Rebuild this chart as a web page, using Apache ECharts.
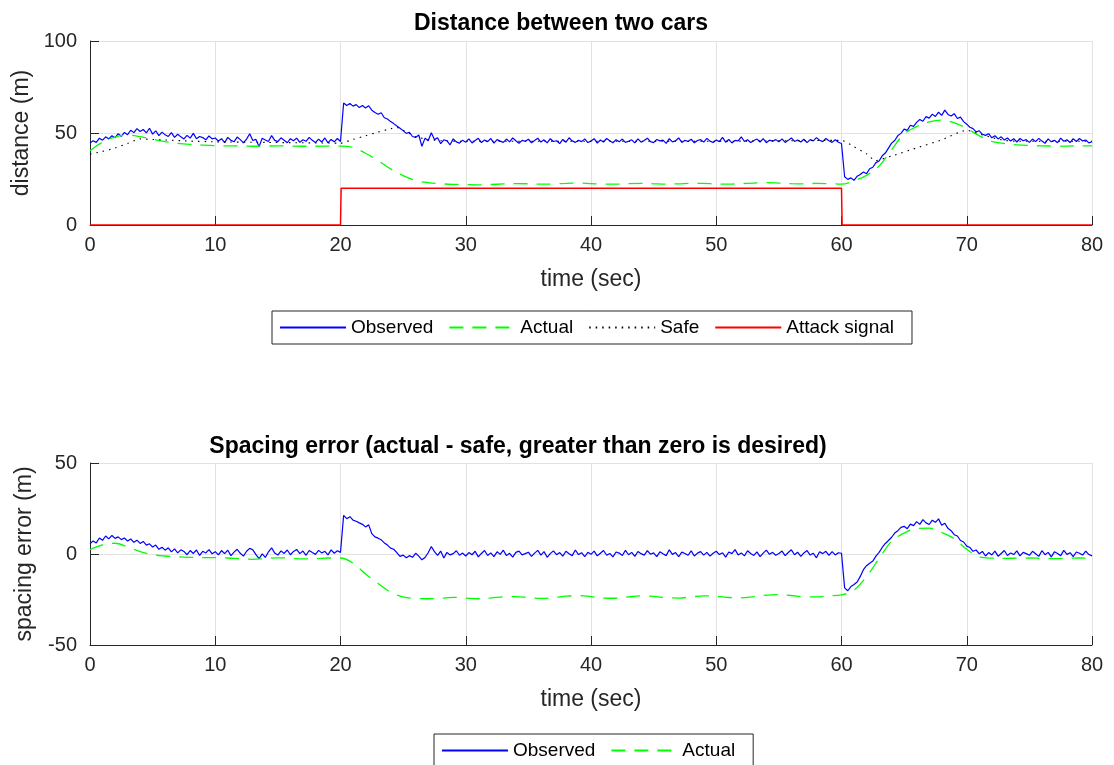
<!DOCTYPE html>
<html><head><meta charset="utf-8">
<script src="https://cdn.jsdelivr.net/npm/echarts@6/dist/echarts.min.js"></script>
<style>html,body{margin:0;padding:0;background:#fff}#c{width:1114px;height:765px}</style>
</head><body><div id="c"></div><script>
// ---- data ----
const timeStep = 0.25; // sampling step (sec) of observed series
const observedDistance = [
44.5,45.8,44.9,47.2,46.1,47.9,46.8,48.5,47.4,49.6,48.2,50.3,49.1,51.5,50.2,52.4,50.8,51.9,50.1,52.6,
49.4,51.2,48.6,50.5,49.0,48.1,50.2,47.6,49.3,47.9,46.8,48.7,47.2,49.8,46.9,48.1,47.5,46.3,48.4,46.8,
47.3,45.6,46.9,44.8,47.6,46.1,45.2,47.8,46.4,44.6,46.7,49.6,45.9,46.5,42.6,47.1,46.2,45.4,48.6,46.0,
45.3,47.4,46.1,44.7,46.9,45.8,47.2,44.9,46.3,45.5,47.6,46.0,44.8,46.7,45.1,47.3,44.6,46.5,45.2,47.0,
45.4,66.3,64.9,66.0,64.6,65.4,63.8,64.9,63.6,64.8,62.4,61.1,60.2,61.0,58.3,57.6,56.2,55.1,53.8,52.6,
51.3,49.8,50.4,48.1,47.6,48.9,42.8,47.2,45.8,50.1,46.4,47.4,44.2,46.3,45.7,43.6,46.8,45.2,44.5,46.1,
45.0,46.8,44.6,45.9,47.1,44.8,46.2,45.3,47.0,44.5,46.4,45.6,44.9,46.7,45.2,47.3,45.8,44.4,46.0,45.5,
46.6,44.7,45.9,47.2,45.1,46.3,44.6,46.9,45.4,45.8,44.2,46.5,45.0,47.4,45.7,44.9,46.1,45.3,46.8,44.8,
45.6,46.9,44.5,46.2,45.1,47.0,45.8,44.7,46.4,45.2,46.7,44.9,45.5,46.3,44.6,46.8,45.0,45.9,47.2,45.3,
44.8,46.5,45.7,46.1,44.4,46.9,45.2,45.8,47.3,44.9,46.0,45.4,46.6,44.7,45.9,46.4,45.1,47.1,45.6,44.8,
46.2,45.3,47.6,45.0,46.5,44.6,46.0,45.7,47.9,45.4,46.3,44.8,45.9,46.7,45.1,46.9,44.7,46.1,45.5,46.4,
45.2,46.8,44.9,46.0,47.3,45.4,46.2,45.1,46.6,44.8,46.4,45.7,47.5,46.1,45.3,47.0,45.8,44.9,46.3,45.0,
44.3,26.2,24.8,25.6,24.3,26.5,27.4,28.8,27.9,30.6,31.4,33.9,34.8,37.6,39.1,41.8,44.5,45.9,48.6,49.8,
52.1,51.4,54.2,53.6,55.8,57.3,56.4,58.9,58.1,60.2,59.0,61.3,59.6,62.4,60.1,59.2,60.5,57.9,58.6,56.2,
54.8,53.1,52.4,50.6,51.2,49.3,48.7,49.6,47.4,48.5,46.8,47.9,46.2,47.3,45.6,46.9,45.1,47.0,45.8,46.4,
44.9,46.7,45.3,47.1,45.6,44.4,46.8,45.2,46.1,44.7,47.2,45.5,46.3,44.8,46.9,45.4,47.0,45.7,46.2,44.6,
45.3];
const observedError = [
5.6,7.2,6.1,8.8,7.5,9.9,8.3,10.2,8.6,9.4,7.9,8.8,7.1,8.3,6.4,7.6,5.8,6.9,4.9,5.6,
3.8,4.9,2.6,3.7,2.1,3.4,1.2,2.8,0.6,2.3,1.4,-0.4,1.9,0.3,2.2,-0.8,1.5,0.6,2.4,0.1,
1.3,-0.5,1.9,0.2,2.1,-0.9,1.0,2.6,0.4,-1.2,1.5,3.1,2.3,-0.3,-2.6,0.1,-1.9,1.2,3.4,0.5,
-0.6,1.7,0.3,2.2,-0.4,1.4,2.5,0.2,1.6,-0.7,1.9,0.8,-0.2,2.0,0.6,1.5,-0.5,2.3,0.4,1.8,
0.9,21.2,19.4,20.5,18.6,18.0,17.1,16.3,14.9,16.0,11.2,9.4,8.7,7.8,6.1,4.9,3.2,2.6,0.8,-1.3,
-0.6,-2.1,-0.9,-1.8,0.4,-1.2,-3.2,-1.9,0.7,4.1,1.3,-0.8,1.6,-2.2,0.9,-0.5,0.2,1.8,-0.7,0.5,
-1.1,0.8,-0.4,1.5,-1.6,0.3,1.9,-0.8,0.6,-1.4,1.2,-0.2,2.1,-0.9,0.4,-1.7,0.9,1.6,-0.5,0.2,
1.0,-1.3,0.5,2.0,-0.6,1.3,-1.8,0.2,1.7,-0.4,0.8,-1.2,1.5,0.1,-0.9,2.2,-0.3,0.7,-1.5,0.9,
-0.2,1.6,-1.0,0.4,1.9,-0.7,0.3,-1.6,1.1,0.5,-0.8,2.0,-0.4,0.9,-1.3,1.4,0.2,-0.6,1.8,-0.1,
0.6,-1.4,1.2,0.1,-0.9,2.3,-0.2,0.8,-1.5,1.0,0.3,-0.7,1.7,-1.1,0.5,1.3,-0.6,0.9,-1.2,0.4,
1.5,-0.3,0.7,-1.7,1.1,0.2,2.4,-0.5,0.6,-1.0,1.8,0.3,-0.8,1.2,-1.4,0.5,2.1,-0.2,0.9,-0.7,
0.3,1.6,-0.9,0.8,2.3,-0.4,1.0,-1.3,0.6,1.9,-0.6,0.4,-2.1,1.2,0.2,1.5,-0.8,1.3,-0.5,0.7,
0.4,-18.6,-20.2,-17.9,-16.8,-15.4,-12.3,-8.6,-6.4,-5.1,-3.9,-1.2,0.9,3.6,5.8,7.4,9.2,11.5,12.8,14.6,
15.2,13.9,16.4,15.6,17.8,16.3,18.9,17.1,16.2,18.6,17.4,19.3,15.8,16.9,14.1,12.8,10.6,9.9,7.4,6.6,
4.3,3.6,1.5,2.2,0.1,1.4,-1.1,0.8,-0.5,1.6,-1.2,0.3,1.9,-0.8,0.6,-0.3,1.7,-1.0,0.9,0.2,
-0.7,1.5,0.1,-1.3,1.8,-0.4,0.9,-1.6,1.2,0.3,-0.9,2.0,-0.2,0.7,-1.4,1.1,0.4,-0.6,1.6,-0.3,
-1.0];
// one value per second, t = 0..80
const actualDistance = [
40.4,45,47.8,48.8,48,46.6,45.3,44.4,43.8,43.4,
43.1,43.0,42.9,42.8,42.9,43.0,42.9,42.8,42.8,42.9,
42.9,42.2,39,35,30.5,26.8,24.2,23,22.4,22.1,
22,21.8,22,22.3,22.5,22.4,22.2,22.3,22.6,22.8,
22.5,22.2,22.2,22.5,22.6,22.4,22.2,22.4,22.7,22.6,
22.3,22.2,22.5,22.8,23.0,22.8,22.5,22.4,22.6,22.5,
22.2,24,27,32,41,49.5,53.5,56,57,55.5,
52.5,48.5,45.5,44.3,43.6,43.2,43.0,42.9,42.9,43.0,
43.0];
const actualError = [
2.4,5,5.9,3.9,1.3,-0.4,-1.1,-1.5,-1.8,-2.0,
-2.0,-2.2,-2.6,-2.9,-2.5,-2.1,-2.3,-2.7,-2.6,-2.2,
-2.2,-5,-11,-16.2,-21,-23.6,-24.4,-24.6,-24.3,-23.8,
-24.2,-24.6,-24.2,-23.5,-23.4,-23.9,-24.4,-24.0,-23.2,-22.8,
-23.4,-24.2,-24.3,-23.6,-23.0,-23.3,-24.0,-24.2,-23.6,-23.0,
-23.2,-23.9,-24.1,-23.4,-22.6,-22.3,-22.8,-23.5,-23.6,-23.0,
-22.5,-19.8,-12.4,-2.5,7,11.5,14,14.2,11.8,8.4,
2.6,-1.5,-2.3,-2.4,-2.3,-2.2,-2.4,-2.5,-2.3,-2.2,
-2.3];
const safeTimes = [0,1,2,3,4,5,6,8,10,14,20,21,22,23,24,24.5,25,26,27,28,30,40,50,60,61,62,62.7,64,66,68,70,71,72,73,74,80];
const safeDistance = [38.5,40,41.8,44.3,46.8,46.5,46.2,45.6,45.2,44.9,44.5,46.5,48.5,50.5,52.3,53,51.5,48,46.5,45.8,45.5,45.5,45.5,46,42.5,38.7,35,37.5,41.9,46.3,51.5,49.5,47.5,46,45.5,45.5];
const attackTimes = [0,20,20.05,60,60.05,80];
const attackValues = [0,0,20,20,0,0];
const xTicks = {min:0, max:80, interval:10};
const yTicksTop = {min:0, max:100, interval:50};
const yTicksBottom = {min:-50, max:50, interval:50};

// ---- chart ----
const FONT = '"Liberation Sans", Arial, Helvetica, sans-serif';
const INK = '#262626';
const chart = echarts.init(document.getElementById('c'), null, {renderer:'canvas'});
const obsPairs = arr => arr.map((v,i)=>[i*timeStep, v]);
const secPairs = arr => arr.map((v,i)=>[i, v]);

function xAxis(gi){
  return {type:'value', gridIndex:gi, min:xTicks.min, max:xTicks.max, interval:xTicks.interval,
    name:'time (sec)', nameLocation:'middle', nameGap:43,
    nameTextStyle:{fontSize:23, color:INK, fontFamily:FONT},
    axisLine:{onZero:false, lineStyle:{color:INK, width:1}},
    axisTick:{inside:true, length:9, lineStyle:{color:INK}},
    axisLabel:{fontSize:20, color:INK, fontFamily:FONT, margin:10},
    splitLine:{show:true, lineStyle:{color:'#e2e2e2', width:1}}};
}
function yAxis(gi, t, name){
  return {type:'value', gridIndex:gi, min:t.min, max:t.max, interval:t.interval,
    name:name, nameLocation:'middle', nameGap:54, nameRotate:90,
    nameTextStyle:{fontSize:23, color:INK, fontFamily:FONT},
    axisLine:{show:true, onZero:false, lineStyle:{color:INK, width:1}},
    axisTick:{show:true, inside:true, length:9, lineStyle:{color:INK}},
    axisLabel:{fontSize:20, color:INK, fontFamily:FONT, margin:13},
    splitLine:{show:true, lineStyle:{color:'#e2e2e2', width:1}}};
}
const legendBase = {orient:'horizontal', itemWidth:66, itemHeight:14, itemGap:15,
  padding:[7,18,7,7], borderColor:INK, borderWidth:1, backgroundColor:'#fff',
  itemStyle:{opacity:0}, lineStyle:{opacity:1},
  textStyle:{fontSize:19, color:'#000', fontFamily:FONT}, selectedMode:false};

chart.setOption({
  animation:false,
  backgroundColor:'#fff',
  title:[
    {text:'Distance between two cars', left:556, top:7, textAlign:'center',
     textStyle:{fontSize:23, fontWeight:'bold', color:'#000', fontFamily:FONT}},
    {text:'Spacing error (actual - safe, greater than zero is desired)', left:513, top:430, textAlign:'center',
     textStyle:{fontSize:23, fontWeight:'bold', color:'#000', fontFamily:FONT}}
  ],
  grid:[
    {left:90, top:41, width:1002, height:184},
    {left:90, top:463, width:1002, height:182}
  ],
  xAxis:[xAxis(0), xAxis(1)],
  yAxis:[yAxis(0, yTicksTop, 'distance (m)'), yAxis(1, yTicksBottom, 'spacing error (m)')],
  legend:[
    Object.assign({left:272, top:311, data:['Observed','Actual','Safe','Attack signal']}, legendBase),
    Object.assign({left:434, top:734, data:['Observed','Actual']}, legendBase)
  ],
  series:[
    {name:'Observed', type:'line', xAxisIndex:0, yAxisIndex:0, symbol:'none',
     data:obsPairs(observedDistance), lineStyle:{color:'#0000ff', width:1.2}, itemStyle:{color:'#0000ff'}},
    {name:'Actual', type:'line', xAxisIndex:0, yAxisIndex:0, symbol:'none', smooth:0.35,
     data:secPairs(actualDistance), lineStyle:{color:'#00ff00', width:1.3, type:[14,9]}, itemStyle:{color:'#00ff00'}},
    {name:'Safe', type:'line', xAxisIndex:0, yAxisIndex:0, symbol:'none', smooth:0.2,
     data:safeTimes.map((t,i)=>[t, safeDistance[i]]), lineStyle:{color:'#000', width:1.1, type:[1.5,5]}, itemStyle:{color:'#000'}},
    {name:'Attack signal', type:'line', xAxisIndex:0, yAxisIndex:0, symbol:'none', z:5,
     data:attackTimes.map((t,i)=>[t, attackValues[i]]), lineStyle:{color:'#ff0000', width:1.5}, itemStyle:{color:'#ff0000'}},
    {name:'Observed', type:'line', xAxisIndex:1, yAxisIndex:1, symbol:'none',
     data:obsPairs(observedError), lineStyle:{color:'#0000ff', width:1.2}, itemStyle:{color:'#0000ff'}},
    {name:'Actual', type:'line', xAxisIndex:1, yAxisIndex:1, symbol:'none', smooth:0.35,
     data:secPairs(actualError), lineStyle:{color:'#00ff00', width:1.3, type:[14,9]}, itemStyle:{color:'#00ff00'}}
  ]
});
</script></body></html>
